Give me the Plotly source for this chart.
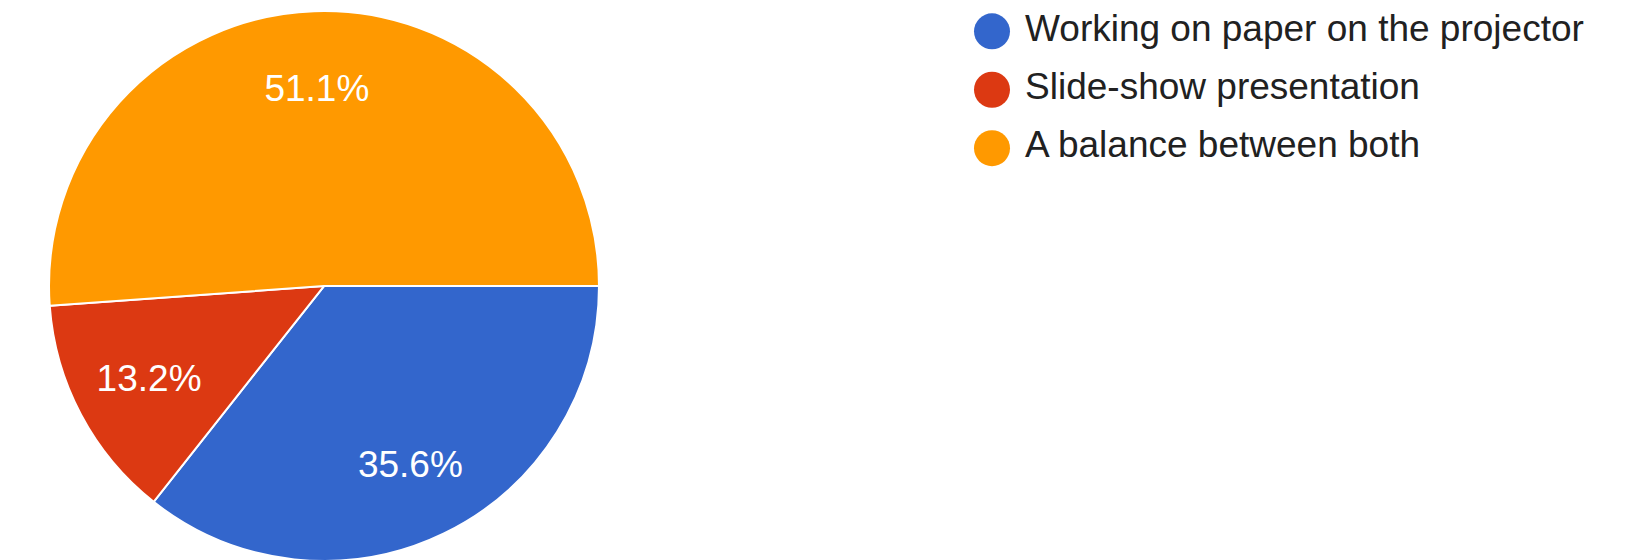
import plotly.graph_objects as go

categories = ["Working on paper on the projector", "Slide-show presentation", "A balance between both"]
counts = [62, 23, 89]
colors = ["#3366cc", "#dc3912", "#ff9900"]

W, H = 1645, 560
FONT = "Arial, Liberation Sans, sans-serif"
pie_domain = dict(x=[0.0249, 0.3593], y=[0.0125, 0.9946])
LEGEND_TEXT_X = 0.05  # horizontal offset (axis units) of legend text from the circles

fig = go.Figure()

# filled pie
fig.add_trace(go.Pie(
    labels=categories, values=counts, sort=False,
    direction="clockwise", rotation=90,
    marker=dict(colors=colors, line=dict(color="white", width=2)),
    textinfo="none",
    domain=pie_domain, showlegend=False,
    hoverinfo="label+percent",
))

# percentage labels (transparent ring so labels sit further out like the original)
fig.add_trace(go.Pie(
    labels=categories, values=counts, sort=False,
    direction="clockwise", rotation=90, hole=0.44,
    marker=dict(colors=["rgba(0,0,0,0)"] * len(categories), line=dict(width=0)),
    texttemplate="%{percent:.1%}",
    textposition="inside",
    insidetextorientation="horizontal",
    textfont=dict(color="white", size=37, family=FONT),
    domain=pie_domain, showlegend=False, hoverinfo="skip",
))

# legend: large circles
fig.add_trace(go.Scatter(
    x=[0 for _ in categories], y=categories,
    mode="markers",
    marker=dict(color=colors, size=36, symbol="circle"),
    cliponaxis=False, showlegend=False, hoverinfo="skip",
))
# legend: labels
fig.add_trace(go.Scatter(
    x=[LEGEND_TEXT_X for _ in categories], y=categories,
    mode="text",
    text=categories, textposition="middle right",
    textfont=dict(size=37, color="#212121", family=FONT),
    cliponaxis=False, showlegend=False, hoverinfo="skip",
))

fig.update_layout(
    width=W, height=H,
    margin=dict(l=0, r=0, t=0, b=0),
    paper_bgcolor="white", plot_bgcolor="white",
    xaxis=dict(visible=False, domain=[984 / 1645, 1.0], range=[0, 1]),
    yaxis=dict(visible=False, type="category", range=[9.19, -0.40]),
    showlegend=False,
)

fig.write_html("out.html")
